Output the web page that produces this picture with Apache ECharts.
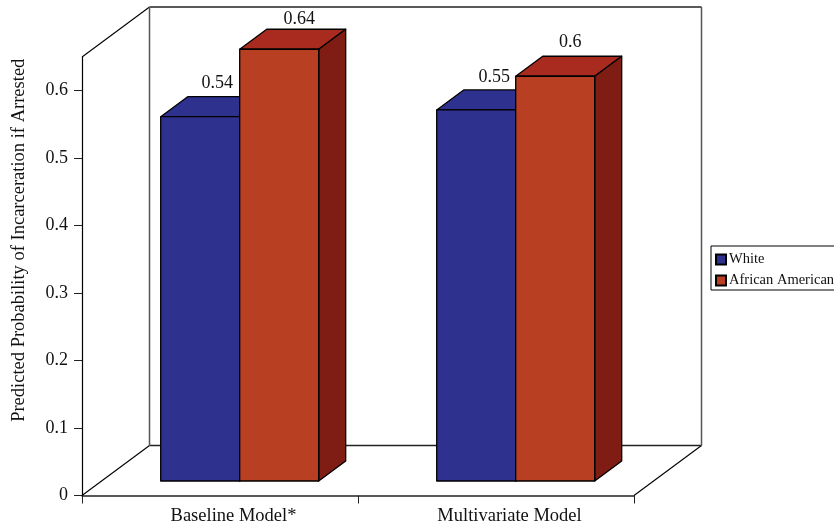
<!DOCTYPE html>
<html>
<head>
<meta charset="utf-8">
<style>html,body{margin:0;padding:0;background:#fff;overflow:hidden}#chart{width:834px;height:526px}</style>
<script src="https://cdn.jsdelivr.net/npm/echarts@6/dist/echarts.min.js"></script>
</head>
<body>
<div id="chart"></div>
<script>
const categories = ['Baseline Model*', 'Multivariate Model'];
const whiteValues = [0.54, 0.55];
const africanAmericanValues = [0.64, 0.6];
const yTicks = [0, 0.1, 0.2, 0.3, 0.4, 0.5, 0.6];
const seriesNames = ['White', 'African American'];
const FONT = '"Liberation Serif","Times New Roman",serif';
const WALL = {dx: 67.5, dy: -50};
const OFFSET = {dx: 19.7, dy: -14.5};
const DEPTH = {dx: 27, dy: -20};
const BAR_RATIO = 79 / 276;

function renderWalls(params, api) {
  const c = params.coordSys;
  const x0 = c.x, x1 = c.x + c.width, yt = c.y, yb = c.y + c.height;
  const bx0 = x0 + WALL.dx, bx1 = x1 + WALL.dx;
  const byt = yt + WALL.dy, byb = yb + WALL.dy;
  const ln = (a, b, col, w) => ({type: 'line', shape: {x1: a[0], y1: a[1], x2: b[0], y2: b[1]}, style: {stroke: col, lineWidth: w}});
  return {type: 'group', children: [
    ln([x0, yt], [bx0, byt], '#000', 1.1),
    ln([x0, yb], [bx0, byb], '#000', 1.1),
    ln([x1, yb], [bx1, byb], '#000', 1.1),
    ln([bx0, byt], [bx1, byt], '#222', 1.4),
    ln([bx0, byb], [bx1, byb], '#222', 1.4),
    ln([bx0, byt], [bx0, byb], '#555', 1.5),
    ln([bx1, byt], [bx1, byb], '#555', 1.5)
  ]};
}

function makeBars(side, colors, labelShift) {
  return function (params, api) {
    const idx = api.value(0), val = api.value(1);
    const top = api.coord([idx, val]);
    const base = api.coord([idx, 0]);
    const w = api.size([1, 0])[0] * BAR_RATIO;
    const xa = top[0] + OFFSET.dx + (side < 0 ? -w : 0);
    const xb = xa + w;
    const yt = top[1] + OFFSET.dy, yb = base[1] + OFFSET.dy;
    const d = DEPTH;
    const s = labelShift[idx];
    const edge = {stroke: '#000', lineWidth: 1.3, lineJoin: 'round'};
    return {type: 'group', children: [
      {type: 'polygon', shape: {points: [[xa, yt], [xa + d.dx, yt + d.dy], [xb + d.dx, yt + d.dy], [xb, yt]]}, style: Object.assign({fill: colors.top}, edge)},
      {type: 'polygon', shape: {points: [[xb, yt], [xb + d.dx, yt + d.dy], [xb + d.dx, yb + d.dy], [xb, yb]]}, style: Object.assign({fill: colors.side}, edge)},
      {type: 'rect', shape: {x: xa, y: yt, width: w, height: yb - yt}, style: Object.assign({fill: colors.front}, edge)},
      {type: 'text', style: {text: String(val), x: (xa + xb) / 2 + s[0], y: yt + s[1], fill: '#111', font: '18px ' + FONT, align: 'center', verticalAlign: 'middle'}}
    ]};
  };
}

const chart = echarts.init(document.getElementById('chart'), null, {renderer: 'canvas'});
chart.setOption({
  animation: false,
  backgroundColor: '#fff',
  textStyle: {fontFamily: FONT},
  grid: {left: 82, right: 200, top: 57, bottom: 30.5, containLabel: false, outerBoundsMode: 'none'},
  legend: {
    orient: 'vertical', left: 711, top: 246, padding: [6, 4, 2, 4], itemGap: 6,
    itemWidth: 10, itemHeight: 10, borderColor: '#000', borderWidth: 1,
    backgroundColor: '#fff', align: 'left', icon: 'rect',
    data: seriesNames,
    textStyle: {fontFamily: FONT, fontSize: 14.5, color: '#111', padding: [0, 0, 0, -2]},
    selectedMode: false
  },
  xAxis: {
    type: 'category', data: categories, boundaryGap: true,
    axisLine: {show: true, lineStyle: {color: '#222', width: 1.5}},
    axisTick: {show: true, length: 8, alignWithLabel: false, lineStyle: {color: '#222', width: 1}},
    axisLabel: {fontFamily: FONT, fontSize: 18.5, color: '#111', margin: 11, padding: [0, 0, 0, 27]},
    splitLine: {show: false}
  },
  yAxis: {
    type: 'value', min: 0, max: 0.65, interval: 0.1,
    name: 'Predicted Probability of Incarceration if Arrested',
    nameLocation: 'middle', nameGap: 53, nameRotate: 90,
    nameTextStyle: {fontFamily: FONT, fontSize: 18.5, color: '#111', padding: [0, 0, 0, 72]},
    axisLine: {show: true, lineStyle: {color: '#000', width: 1.2}},
    axisTick: {show: true, length: 8, customValues: yTicks, lineStyle: {color: '#222', width: 1}},
    axisLabel: {fontFamily: FONT, fontSize: 18, color: '#111', margin: 14, padding: [6, 0, 0, 0], customValues: yTicks, formatter: v => String(v)},
    splitLine: {show: false}
  },
  series: [
    {type: 'custom', name: 'walls', data: [[0, 0]], encode: {x: 0, y: 1}, renderItem: renderWalls, silent: true, z: 1},
    {type: 'custom', name: seriesNames[0], itemStyle: {color: '#2E318E', borderColor: '#000', borderWidth: 1},
      data: whiteValues.map((v, i) => [i, v]), encode: {x: 0, y: 1}, z: 2,
      renderItem: makeBars(-1, {front: '#2E318E', top: '#2E318E', side: '#1F2168'}, [[17, -33], [18, -33]])},
    {type: 'custom', name: seriesNames[1], itemStyle: {color: '#B83F22', borderColor: '#000', borderWidth: 1},
      data: africanAmericanValues.map((v, i) => [i, v]), encode: {x: 0, y: 1}, z: 3,
      renderItem: makeBars(1, {front: '#B83F22', top: '#A92B20', side: '#7F1D15'}, [[20, -30], [15, -34]])}
  ]
});
</script>
</body>
</html>
